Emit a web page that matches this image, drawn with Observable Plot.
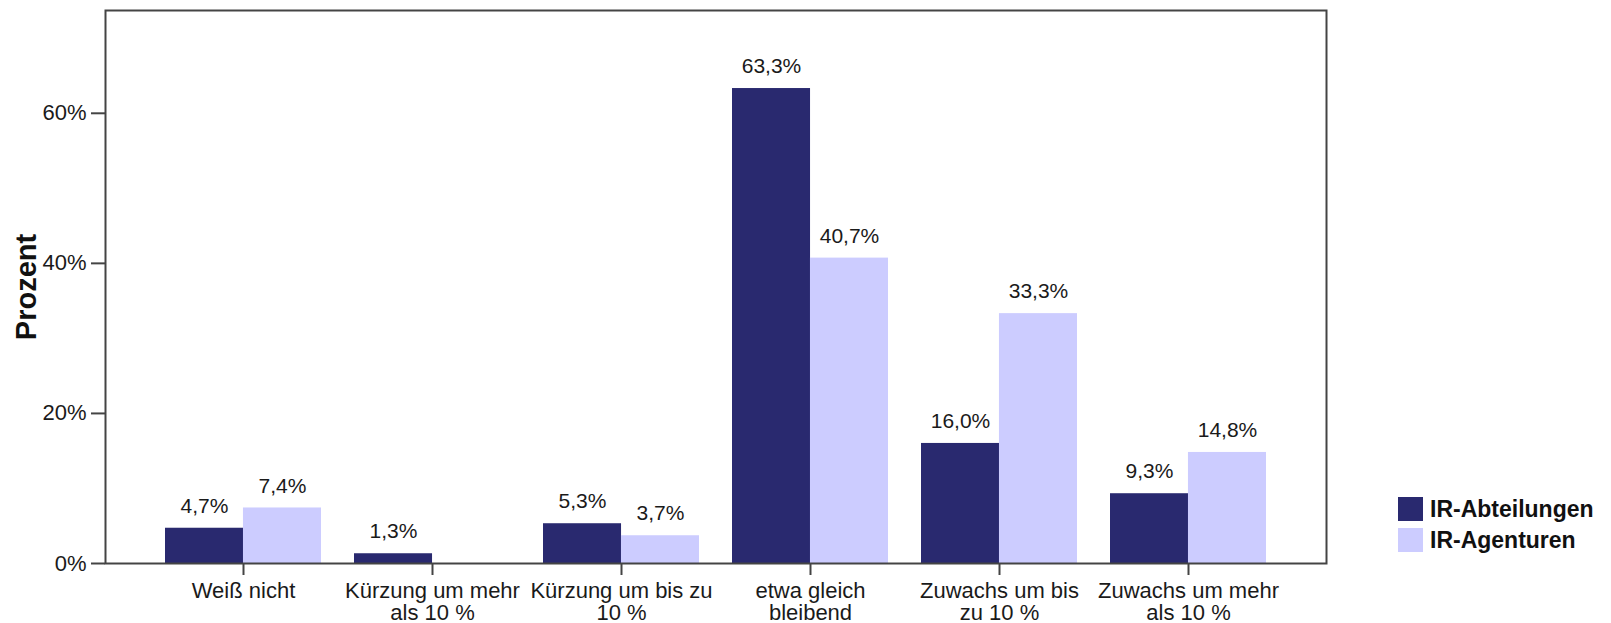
<!DOCTYPE html>
<html>
<head>
<meta charset="utf-8">
<script src="https://cdn.jsdelivr.net/npm/d3@7"></script>
<script src="https://cdn.jsdelivr.net/npm/@observablehq/plot@0.6"></script>
<style>
  html, body { margin: 0; padding: 0; background: #fff; }
  #wrap { position: relative; width: 1611px; height: 623px; font-family: "Liberation Sans", Arial, sans-serif; }
  #legend { position: absolute; left: 1398px; top: 497px; font-weight: bold; font-size: 23px; color: #111; }
  .item { display: flex; align-items: center; height: 24px; margin-bottom: 7px; }
  .sw { width: 25px; height: 24px; margin-right: 7px; }
</style>
</head>
<body>
<div id="wrap"></div>
<script>
const categories = ["Weiß nicht", "Kürzung um mehr als 10 %", "Kürzung um bis zu 10 %", "etwa gleich bleibend", "Zuwachs um bis zu 10 %", "Zuwachs um mehr als 10 %"];
const categoryLabels = ["Weiß nicht", "Kürzung um mehr\nals 10 %", "Kürzung um bis zu\n10 %", "etwa gleich\nbleibend", "Zuwachs um bis\nzu 10 %", "Zuwachs um mehr\nals 10 %"];
const series = ["IR-Abteilungen", "IR-Agenturen"];
const abteilungen = [4.7, 1.3, 5.3, 63.3, 16.0, 9.3];
const agenturen = [7.4, null, 3.7, 40.7, 33.3, 14.8];
const seriesColors = ["#29296f", "#ccccff"];
const yTicks = [0, 20, 40, 60];
const yMax = 73.7;

const W = 1611, H = 623;
const mL = 105, mR = 285, mT = 10, mB = 60;
const font = "'Liberation Sans', Arial, sans-serif";

const xOpts = {type: "band", domain: categories, range: [mL, W - mR], paddingInner: 0.175, paddingOuter: 0.3175};
const bw = Plot.scale({x: xOpts}).bandwidth;

const dataAbt = categories.map((c, i) => ({cat: c, series: series[0], value: abteilungen[i]})).filter(d => d.value != null);
const dataAg = categories.map((c, i) => ({cat: c, series: series[1], value: agenturen[i]})).filter(d => d.value != null);
const fmt = d => d.value.toFixed(1).replace(".", ",") + "%";
const labelMap = new Map(categories.map((c, i) => [c, categoryLabels[i]]));

const chart = Plot.plot({
  width: W, height: H,
  marginLeft: mL, marginRight: mR, marginTop: mT, marginBottom: mB,
  style: {fontFamily: font, fontSize: "22px", color: "#1a1a1a", background: "#fff"},
  x: {domain: categories, paddingInner: 0.175, paddingOuter: 0.3175},
  y: {domain: [0, yMax]},
  color: {domain: series, range: seriesColors},
  marks: [
    Plot.barY(dataAbt, {x: "cat", y: "value", fill: "series", insetRight: bw / 2}),
    Plot.barY(dataAg, {x: "cat", y: "value", fill: "series", insetLeft: bw / 2}),
    Plot.text(dataAbt, {x: "cat", y: "value", text: fmt, dx: -bw / 4, dy: -22, lineAnchor: "middle", fontSize: 21, fill: "#1a1a1a"}),
    Plot.text(dataAg, {x: "cat", y: "value", text: fmt, dx: bw / 4, dy: -22, lineAnchor: "middle", fontSize: 21, fill: "#1a1a1a"}),
    Plot.frame({stroke: "#444", strokeWidth: 2}),
    Plot.axisY({ticks: yTicks, tickFormat: d => d + "%", tickSize: 14, tickPadding: 5, fontSize: 22, stroke: "#444", strokeWidth: 2, label: null}),
    Plot.axisX({tickSize: 12, tickPadding: 7, fontSize: 22, lineHeight: 1.0, stroke: "#444", strokeWidth: 2, tickFormat: d => labelMap.get(d), label: null}),
    Plot.text(["Prozent"], {frameAnchor: "left", rotate: -90, dx: -79, fontSize: 29, fontWeight: "bold", fill: "#111", textAnchor: "middle", lineAnchor: "middle"})
  ]
});

const wrap = document.getElementById("wrap");
wrap.appendChild(chart);
const legend = document.createElement("div");
legend.id = "legend";
series.forEach((s, i) => {
  const it = document.createElement("div");
  it.className = "item";
  const sw = document.createElement("div");
  sw.className = "sw";
  sw.style.background = seriesColors[i];
  const t = document.createElement("span");
  t.textContent = s;
  it.appendChild(sw);
  it.appendChild(t);
  legend.appendChild(it);
});
wrap.appendChild(legend);
</script>
</body>
</html>
